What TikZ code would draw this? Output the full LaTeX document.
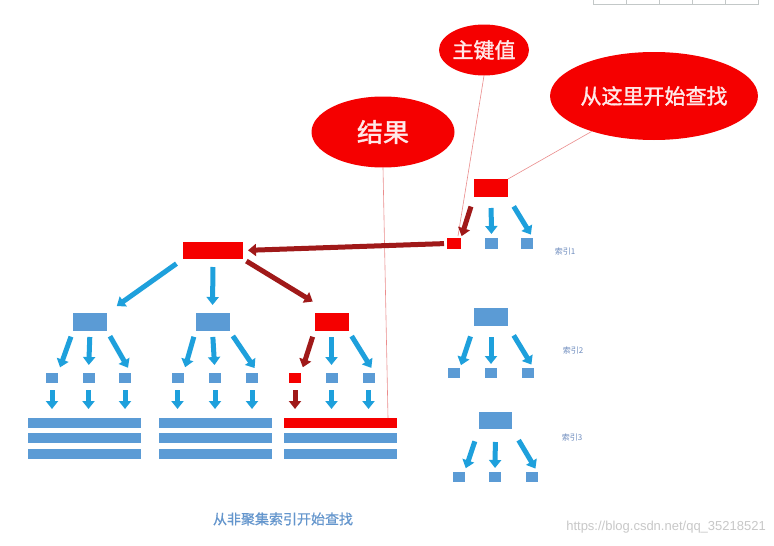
\documentclass[tikz,border=0pt]{standalone}
\usepackage{fontspec}
\setmainfont{Liberation Sans}
\newfontfamily\cjk{Noto Sans CJK SC}
\newfontfamily\cjkbold[FakeBold=1.6]{Noto Sans CJK SC}
\newfontfamily\cjkmed[FakeBold=0.6]{Noto Sans CJK SC}
\usetikzlibrary{arrows.meta,shapes.geometric,calc}
\definecolor{boxred}{RGB}{245,0,0}
\definecolor{darkred}{RGB}{160,25,25}
\definecolor{boxblue}{RGB}{91,155,213}
\definecolor{arrblue}{RGB}{30,160,220}
\definecolor{pinkline}{RGB}{235,140,140}
\definecolor{lblblue}{RGB}{110,140,190}
\definecolor{capblue}{RGB}{100,150,205}
\definecolor{gridgray}{RGB}{195,200,200}
\definecolor{wmgray}{RGB}{200,200,200}
\definecolor{elltext}{RGB}{255,232,232}
\tikzset{
  rbox/.style={fill=boxred, inner sep=0pt, outer sep=0pt},
  bbox/.style={fill=boxblue, inner sep=0pt, outer sep=0pt},
  rootsz/.style={minimum width=34pt, minimum height=18pt},
  leafsz/.style={minimum width=12pt, minimum height=10pt},
  rowsz/.style={minimum width=113pt, minimum height=10pt},
  barr/.style={draw=arrblue, line width=5pt, -{Triangle[width=12pt,length=8pt]}},
  rarr/.style={draw=darkred, line width=5pt, -{Triangle[width=12pt,length=8pt]}},
  callout/.style={ellipse, fill=boxred, inner sep=0pt, text=elltext},
  thin/.style={draw=pinkline, line width=0.6pt},
  idx/.style={text=lblblue, font=\cjk\fontsize{8}{9}\selectfont, inner sep=0pt},
}
\begin{document}
\begin{tikzpicture}[x=1pt,y=-1pt]
\useasboundingbox[fill=white] (0,0) rectangle (774,546);

% grid fragment top right
\draw[gridgray, line width=0.8pt] (593,0) -- (593,4) -- (758,4) -- (758,0);
\foreach \gx in {626,659,692,725} \draw[gridgray, line width=0.6pt] (\gx,0) -- (\gx,4);

% callouts
\node[callout, minimum width=90pt, minimum height=51pt, font=\cjkbold\fontsize{21}{24}\selectfont] (kv) at (484,50) {主键值};
\node[callout, minimum width=184pt, minimum height=88pt, font=\cjkbold\fontsize{21}{24}\selectfont] (start) at (654,96) {从这里开始查找};
\node[callout, minimum width=143pt, minimum height=71pt, font=\cjkbold\fontsize{26}{30}\selectfont] (res) at (383,132) {结果};

% top-right tree (index 1)
\node[rbox, rootsz] (r1) at (491,188) {};
\node[rbox, minimum width=14pt, minimum height=11pt] (r1a) at (454,243.5) {};
\node[bbox, minimum width=13pt, minimum height=11pt] (r1b) at (491.5,243.5) {};
\node[bbox, minimum width=12pt, minimum height=11pt] (r1c) at (527,243.5) {};
\node[idx] (i1) at (565,251) {索引1};

% main tree
\node[rbox, minimum width=60pt, minimum height=17pt] (main) at (213,250.5) {};
\node[bbox, rootsz] (L) at (90,322) {};
\node[bbox, rootsz] (M) at (212.5,322) {};
\node[rbox, rootsz] (R) at (331.5,322) {};

\node[bbox, leafsz] (L1) at (52,378) {};
\node[bbox, leafsz] (L2) at (88.5,378) {};
\node[bbox, leafsz] (L3) at (125,378) {};
\node[bbox, leafsz] (M1) at (177.5,378) {};
\node[bbox, leafsz] (M2) at (215,378) {};
\node[bbox, leafsz] (M3) at (252,378) {};
\node[rbox, leafsz] (R1) at (295,378) {};
\node[bbox, leafsz] (R2) at (331.5,378) {};
\node[bbox, leafsz] (R3) at (368.5,378) {};

\node[bbox, rowsz] (Lrow1) at (84.5,423) {};
\node[bbox, rowsz] (Lrow2) at (84.5,438) {};
\node[bbox, rowsz] (Lrow3) at (84.5,454) {};
\node[bbox, rowsz] (Mrow1) at (215,423) {};
\node[bbox, rowsz] (Mrow2) at (215,438) {};
\node[bbox, rowsz] (Mrow3) at (215,454) {};
\node[rbox, rowsz] (Rrow1) at (340.5,423) {};
\node[bbox, rowsz] (Rrow2) at (340.5,438) {};
\node[bbox, rowsz] (Rrow3) at (340.5,454) {};

% index 2 tree
\node[bbox, rootsz] (T2) at (491,317) {};
\node[bbox, leafsz] (T2a) at (454,373) {};
\node[bbox, leafsz] (T2b) at (491,373) {};
\node[bbox, leafsz] (T2c) at (527.5,373) {};
\node[idx] (i2) at (573,350) {索引2};

% index 3 tree
\node[bbox, minimum width=33pt, minimum height=17pt] (T3) at (495.5,420.5) {};
\node[bbox, leafsz] (T3a) at (458.5,477) {};
\node[bbox, leafsz] (T3b) at (495,477) {};
\node[bbox, leafsz] (T3c) at (531.5,477) {};
\node[idx] (i3) at (572,437) {索引3};

% thin callout lines
\draw[thin] (kv.south) -- ($(r1a.north)+(4,-2)$);
\draw[thin] (start) -- (r1.north east);
\draw[thin] (res.south) -- ($(Rrow1.north east)+(-9,0)$);

% arrows top-right tree
\draw[rarr, shorten <=10pt, shorten >=2pt] (r1.south west) -- (r1a.north east);
\draw[barr, shorten <=11pt, shorten >=4pt] (r1.south) -- (r1b.north);
\draw[barr, shorten <=11pt, shorten >=4pt] (r1.south east) -- (r1c.north east);
\draw[rarr, shorten <=3pt, shorten >=5pt] (r1a.west) -- (main.east);

% arrows main
\draw[barr, shorten <=8pt, shorten >=12pt] (main.south west) -- (L.north east);
\draw[barr, shorten <=8pt, shorten >=8pt] (main.south) -- (M.north);
\draw[rarr, shorten <=4pt, shorten >=22pt] (main.south east) -- (R.north);

% level 2 -> 3
\foreach \P/\a/\b/\c in {L/L1/L2/L3, M/M1/M2/M3}{
  \draw[barr, shorten <=6pt, shorten >=6pt] (\P.south west) -- (\a.north east);
  \draw[barr, shorten <=6pt, shorten >=8pt] (\P.south) -- (\b.north);
  \draw[barr, shorten <=6pt, shorten >=6pt] (\P.south east) -- (\c.north east);
}
\draw[rarr, shorten <=6pt, shorten >=6pt] (R.south west) -- (R1.north east);
\draw[barr, shorten <=6pt, shorten >=8pt] (R.south) -- (R2.north);
\draw[barr, shorten <=6pt, shorten >=6pt] (R.south east) -- (R3.north east);

% leaves -> rows
\foreach \a/\r in {L1/Lrow1, L2/Lrow1, L3/Lrow1, M1/Mrow1, M2/Mrow1, M3/Mrow1, R2/Rrow1, R3/Rrow1}{
  \draw[barr, shorten <=7pt, shorten >=9pt] (\a.south) -- (\a.south |- \r.north);
}
\draw[rarr, shorten <=7pt, shorten >=9pt] (R1.south) -- (R1.south |- Rrow1.north);

% index 2 arrows
\draw[barr, shorten <=11pt, shorten >=3pt] (T2.south west) -- (T2a.north east);
\draw[barr, shorten <=11pt, shorten >=4pt] (T2.south) -- (T2b.north);
\draw[barr, shorten <=11pt, shorten >=4pt] (T2.south east) -- (T2c.north east);

% index 3 arrows
\draw[barr, shorten <=13pt, shorten >=4pt] (T3.south west) -- (T3a.north east);
\draw[barr, shorten <=13pt, shorten >=4pt] (T3.south) -- (T3b.north);
\draw[barr, shorten <=13pt, shorten >=4pt] (T3.south east) -- (T3c.north east);

% captions
\node[text=capblue, font=\cjkmed\fontsize{14}{16}\selectfont, inner sep=0pt] (cap) at (283,519) {从非聚集索引开始查找};
\node[text=wmgray, font=\fontsize{13}{15}\selectfont, inner sep=0pt, anchor=east] (wm) at (766,527) {https://blog.csdn.net/qq\_35218521};
\end{tikzpicture}
\end{document}
